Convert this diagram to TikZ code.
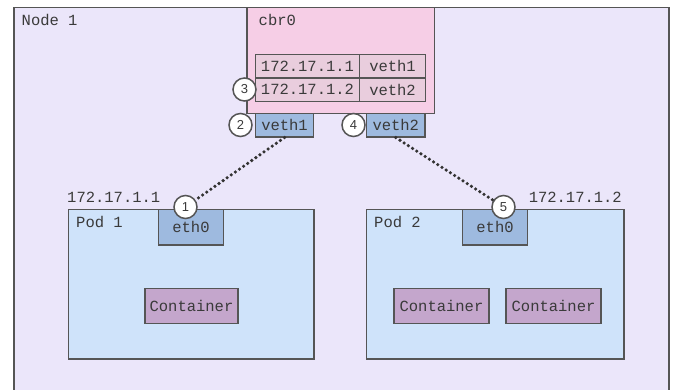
\documentclass[tikz,border=0pt]{standalone}
\usepackage{fontspec}
\setmainfont{Liberation Mono}
\newfontfamily\numfont{Liberation Sans}

\definecolor{edge}{HTML}{555555}
\definecolor{ink}{HTML}{3A3A3A}
\definecolor{dots}{HTML}{333333}
\definecolor{nodebg}{HTML}{EBE6FA}
\definecolor{bridgebg}{HTML}{F6CEE6}
\definecolor{cellbg}{HTML}{E9CDDD}
\definecolor{ifacebg}{HTML}{9EBADF}
\definecolor{podbg}{HTML}{CFE3FA}
\definecolor{ctrbg}{HTML}{C4A6CC}

\tikzset{
  txt/.style={font=\fontsize{15.5}{17}\selectfont, text=ink, inner sep=0pt},
  % rectangle spanned by two corners (x1,y1) (x2,y2)
  span/.style n args={4}{rectangle, inner sep=0pt,
    minimum width={(#3-#1)*1pt}, minimum height={(#4-#2)*1pt},
    at={({(#1+#3)/2},{(#2+#4)/2})}},
  region/.style={draw=edge, line width=1.5pt, inner sep=0pt},
  cell/.style={region, fill=cellbg, txt},
  iface/.style={region, fill=ifacebg, txt},
  ctr/.style={region, fill=ctrbg, txt},
  badge/.style={circle, draw=edge, fill=white, line width=1.5pt, minimum size=23pt,
    inner sep=0pt, text=ink, font=\numfont\fontsize{13}{14}\selectfont},
  wire/.style={draw=dots, line width=3.6pt, line cap=round, dash pattern=on 0pt off 5pt}
}

\begin{document}
\begin{tikzpicture}[x=1pt, y=-1pt]
\useasboundingbox (0,0) rectangle (674,390);
\clip (0,0) rectangle (674,390);

% host node
\node[region, fill=nodebg, span={14}{7.5}{669}{400}] (node1) {};
\node[txt, anchor=west] (node1lbl) at (21.5,19.5) {Node 1};

% bridge with its address table
\node[region, fill=bridgebg, span={247}{7.5}{434.5}{113.3}] (cbr0) {};
\node[txt, anchor=west] (cbr0lbl) at (258.5,19.5) {cbr0};
\node[cell, span={255.5}{54.3}{359.5}{77.8}] (ip1) {172.17.1.1};
\node[cell, span={359.5}{54.3}{425.5}{77.8}] (if1) {veth1};
\node[cell, span={255.5}{77.8}{359.5}{101.5}] (ip2) {172.17.1.2};
\node[cell, span={359.5}{77.8}{425.5}{101.5}] (if2) {veth2};

% host-side veth ends
\node[iface, span={255.5}{113.3}{313.5}{136.8}] (veth1) {veth1};
\node[iface, span={366.5}{113.3}{425}{136.8}] (veth2) {veth2};

% pods
\node[region, fill=podbg, span={68.3}{209.3}{314}{359}] (pod1) {};
\node[txt, anchor=west] (pod1lbl) at (76,221.5) {Pod 1};
\node[txt, anchor=west] (pod1ip) at (67,197.5) {172.17.1.1};
\node[iface, span={158.5}{209.3}{223.5}{245}] (eth0a) {eth0};
\node[ctr, span={145}{288.3}{238}{323.5}] (ctr1) {Container};

\node[region, fill=podbg, span={366.5}{209.3}{624}{359}] (pod2) {};
\node[txt, anchor=west] (pod2lbl) at (374,221.5) {Pod 2};
\node[txt, anchor=east] (pod2ip) at (622,197.5) {172.17.1.2};
\node[iface, span={462.5}{209.3}{527.5}{245}] (eth0b) {eth0};
\node[ctr, span={394}{288.3}{489}{323.5}] (ctr2) {Container};
\node[ctr, span={506}{288.3}{601}{323.5}] (ctr3) {Container};

% numbered steps
\node[badge] (s1) at (185.5,207) {1};
\node[badge] (s2) at (240.5,125) {2};
\node[badge] (s3) at (244.5,89.5) {3};
\node[badge] (s4) at (353.5,125) {4};
\node[badge] (s5) at (503.5,207) {5};

% veth pairs
\draw[wire] (veth1.south) -- (s1);
\draw[wire] (veth2.south) -- (s5);
\end{tikzpicture}
\end{document}
